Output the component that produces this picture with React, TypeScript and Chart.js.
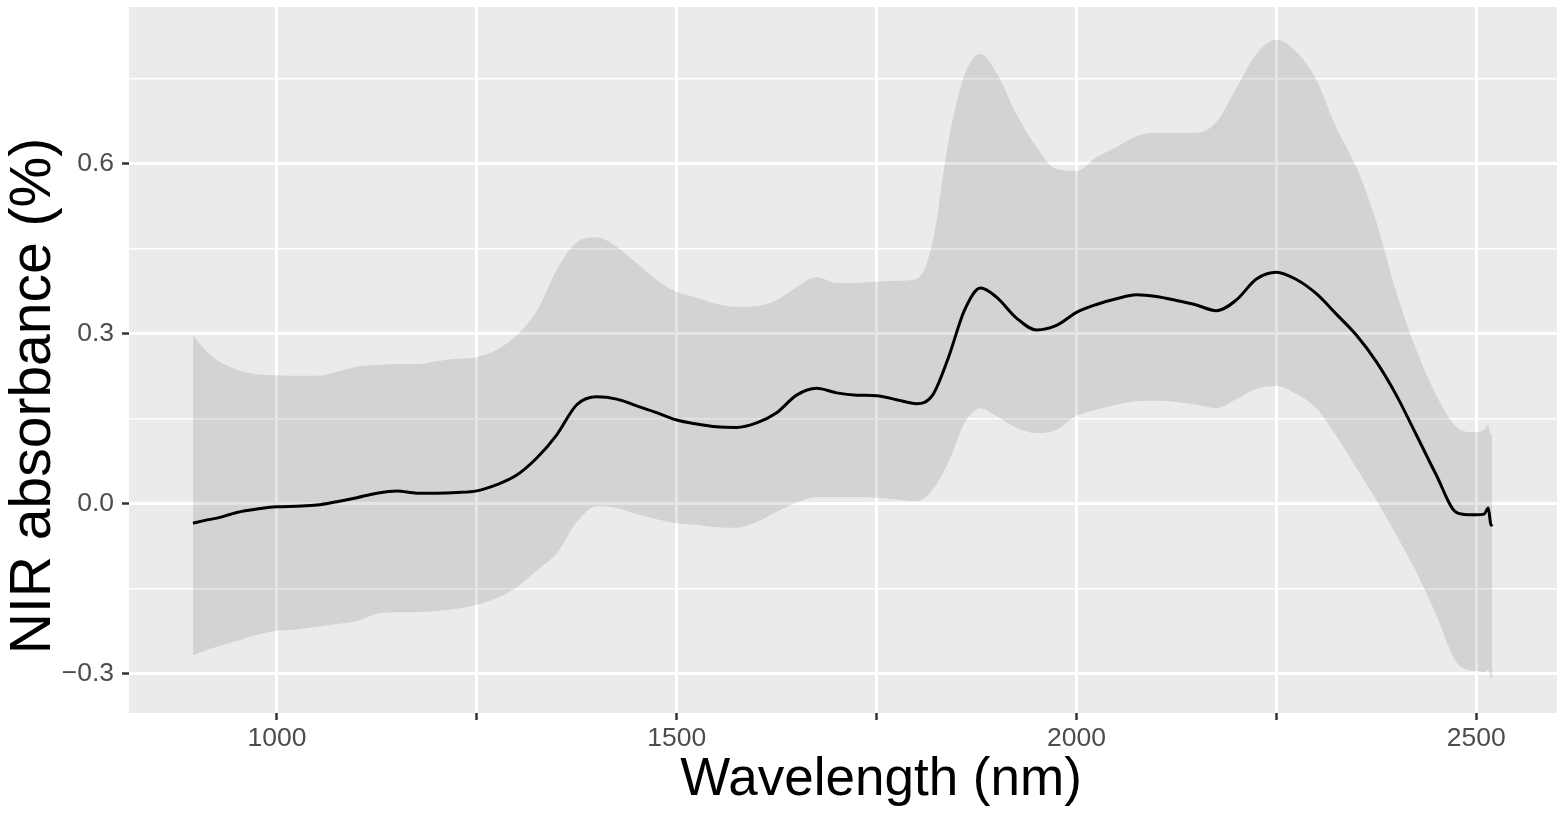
import React, { useEffect, useRef } from "react";
import { Chart, registerables } from "chart.js";

Chart.register(...registerables);

// ---- data ----
const wavelengths = [
  895, 910, 925, 950, 975, 1000, 1025, 1050, 1075, 1100, 1125, 1150, 1175, 1200,
  1225, 1250, 1275, 1300, 1325, 1350, 1375, 1400, 1425, 1450, 1475, 1500, 1525,
  1550, 1575, 1600, 1625, 1650, 1675, 1700, 1725, 1750, 1775, 1800, 1820, 1840,
  1860, 1880, 1900, 1925, 1950, 1975, 2000, 2025, 2050, 2075, 2100, 2125, 2150,
  2175, 2200, 2225, 2250, 2275, 2300, 2325, 2350, 2375, 2400, 2425, 2450, 2475,
  2490, 2500, 2510, 2515, 2518, 2520,
];

const meanAbs = [
  -0.034, -0.029, -0.025, -0.015, -0.009, -0.005, -0.004, -0.002, 0.004, 0.011,
  0.019, 0.023, 0.019, 0.019, 0.02, 0.023, 0.034, 0.051, 0.081, 0.122, 0.175,
  0.189, 0.185, 0.173, 0.161, 0.148, 0.141, 0.136, 0.135, 0.143, 0.161, 0.192,
  0.204, 0.196, 0.192, 0.191, 0.184, 0.177, 0.192, 0.259, 0.342, 0.381, 0.365,
  0.328, 0.307, 0.315, 0.338, 0.352, 0.362, 0.369, 0.366, 0.359, 0.351, 0.341,
  0.36, 0.397, 0.409, 0.396, 0.371, 0.335, 0.298, 0.251, 0.192, 0.122, 0.051,
  -0.015, -0.019, -0.019, -0.018, -0.007, -0.035, -0.039,
];

const upperAbs = [
  0.298, 0.272, 0.254, 0.237, 0.229, 0.227, 0.226, 0.226, 0.233, 0.242, 0.245,
  0.247, 0.247, 0.252, 0.256, 0.259, 0.272, 0.298, 0.341, 0.413, 0.462, 0.47,
  0.454, 0.425, 0.395, 0.374, 0.364, 0.353, 0.348, 0.349, 0.36, 0.383, 0.4, 0.39,
  0.39, 0.392, 0.394, 0.397, 0.462, 0.642, 0.757, 0.794, 0.761, 0.688, 0.63,
  0.591, 0.588, 0.612, 0.63, 0.649, 0.655, 0.655, 0.655, 0.674, 0.734, 0.794,
  0.819, 0.798, 0.748, 0.664, 0.595, 0.498, 0.374, 0.272, 0.192, 0.136, 0.127,
  0.127, 0.131, 0.139, 0.122, 0.122,
];

const lowerAbs = [
  -0.267, -0.259, -0.252, -0.242, -0.231, -0.224, -0.221, -0.217, -0.212, -0.207,
  -0.194, -0.191, -0.191, -0.189, -0.185, -0.178, -0.166, -0.147, -0.117, -0.087,
  -0.032, -0.004, -0.007, -0.018, -0.027, -0.034, -0.037, -0.041, -0.042, -0.032,
  -0.014, 0.002, 0.012, 0.012, 0.012, 0.011, 0.008, 0.005, 0.025, 0.074, 0.143,
  0.169, 0.155, 0.134, 0.125, 0.131, 0.155, 0.166, 0.175, 0.181, 0.182, 0.18,
  0.175, 0.169, 0.185, 0.203, 0.208, 0.194, 0.169, 0.12, 0.064, 0.007, -0.055,
  -0.12, -0.196, -0.279, -0.293, -0.295, -0.297, -0.293, -0.307, -0.307,
];

const xGridValues = [1000, 1250, 1500, 1750, 2000, 2250, 2500];
const xLabelValues = [1000, 1500, 2000, 2500];
const yGridValues = [-0.3, -0.15, 0, 0.15, 0.3, 0.45, 0.6, 0.75];
const yLabelValues = [-0.3, 0, 0.3, 0.6];
const xRange = [815, 2601];
const yRange = [-0.369, 0.877];
const xTitle = "Wavelength (nm)";
const yTitle = "NIR absorbance (%)";

const FONT = '"Liberation Sans", Arial, Helvetica, sans-serif';

const near = (list: number[], v: number) => list.some((l) => Math.abs(l - v) < 1e-6);
const fmtY = (v: number) => {
  const s = Math.abs(v).toFixed(1);
  return v < -1e-9 ? "\u2212" + s : s;
};

const panelBg = {
  id: "panelBg",
  beforeDraw(chart: any) {
    const { ctx, chartArea: a } = chart;
    ctx.save();
    ctx.fillStyle = "#EBEBEB";
    ctx.fillRect(a.left, a.top, a.right - a.left, a.bottom - a.top);
    ctx.restore();
  },
};

const axisTitles = {
  id: "axisTitles",
  afterDraw(chart: any) {
    const { ctx, chartArea: a } = chart;
    ctx.save();
    ctx.fillStyle = "#000000";
    ctx.textAlign = "center";
    ctx.textBaseline = "alphabetic";
    ctx.font = `53px ${FONT}`;
    ctx.fillText(xTitle, (a.left + a.right) / 2 + 38, a.bottom + 82);
    ctx.translate(a.left - 79, (a.top + a.bottom) / 2 + 36);
    ctx.rotate(-Math.PI / 2);
    ctx.font = `57px ${FONT}`;
    ctx.fillText(yTitle, 0, 0);
    ctx.restore();
  },
};

const noPad = (s: any) => {
  s.paddingTop = 0;
  s.paddingBottom = 0;
  s.paddingLeft = 0;
  s.paddingRight = 0;
};

export default function App() {
  const ref = useRef<HTMLCanvasElement | null>(null);

  useEffect(() => {
    document.body.style.margin = "0";
    document.body.style.overflow = "hidden";
    const canvas = ref.current;
    if (!canvas) return;
    const pts = (ys: number[]) => wavelengths.map((x, i) => ({ x, y: ys[i] }));
    const chart = new Chart(canvas, {
      type: "line",
      data: {
        datasets: [
          {
            label: "mean",
            data: pts(meanAbs),
            borderColor: "#000000",
            borderWidth: 3,
            pointRadius: 0,
            fill: false,
            cubicInterpolationMode: "monotone",
          },
          {
            label: "upper",
            data: pts(upperAbs),
            borderColor: "rgba(0,0,0,0)",
            borderWidth: 0,
            backgroundColor: "rgba(0,0,0,0.1)",
            pointRadius: 0,
            fill: "+1",
            cubicInterpolationMode: "monotone",
          },
          {
            label: "lower",
            data: pts(lowerAbs),
            borderColor: "rgba(0,0,0,0)",
            borderWidth: 0,
            pointRadius: 0,
            fill: false,
            cubicInterpolationMode: "monotone",
          },
        ],
      } as any,
      options: {
        animation: false,
        responsive: false,
        devicePixelRatio: 1,
        events: [],
        layout: { padding: { top: 7, right: 8, left: 0, bottom: 0 } },
        plugins: { legend: { display: false }, tooltip: { enabled: false } },
        scales: {
          x: {
            type: "linear",
            min: xRange[0],
            max: xRange[1],
            afterBuildTicks: (s: any) => {
              s.ticks = xGridValues.map((v) => ({ value: v }));
            },
            afterFit: (s: any) => {
              s.height = 103;
              noPad(s);
            },
            border: { display: false },
            grid: {
              color: "#FFFFFF",
              lineWidth: 3,
              drawTicks: true,
              tickLength: 7,
              tickWidth: 2.5,
              tickColor: "#333333",
            },
            ticks: {
              autoSkip: false,
              maxRotation: 0,
              padding: 3,
              color: "#4D4D4D",
              font: { family: FONT, size: 26.5 },
              callback: (v: any) => (near(xLabelValues, Number(v)) ? String(v) : ""),
            },
          },
          y: {
            type: "linear",
            min: yRange[0],
            max: yRange[1],
            afterBuildTicks: (s: any) => {
              s.ticks = yGridValues.map((v) => ({ value: v }));
            },
            afterFit: (s: any) => {
              s.width = 129;
              noPad(s);
            },
            border: { display: false },
            grid: {
              color: "#FFFFFF",
              lineWidth: (c: any) => (c.tick && near(yLabelValues, c.tick.value) ? 3 : 1.5),
              drawTicks: true,
              tickLength: 7,
              tickWidth: 2.5,
              tickColor: (c: any) =>
                c.tick && near(yLabelValues, c.tick.value) ? "#333333" : "rgba(0,0,0,0)",
            },
            ticks: {
              autoSkip: false,
              padding: 8,
              color: "#4D4D4D",
              font: { family: FONT, size: 26.5 },
              callback: (v: any) => (near(yLabelValues, Number(v)) ? fmtY(Number(v)) : ""),
            },
          },
        },
      } as any,
      plugins: [panelBg, axisTitles],
    });
    return () => chart.destroy();
  }, []);

  return (
    <div style={{ width: 1565, height: 816 }}>
      <canvas ref={ref} width={1565} height={816} />
    </div>
  );
}
